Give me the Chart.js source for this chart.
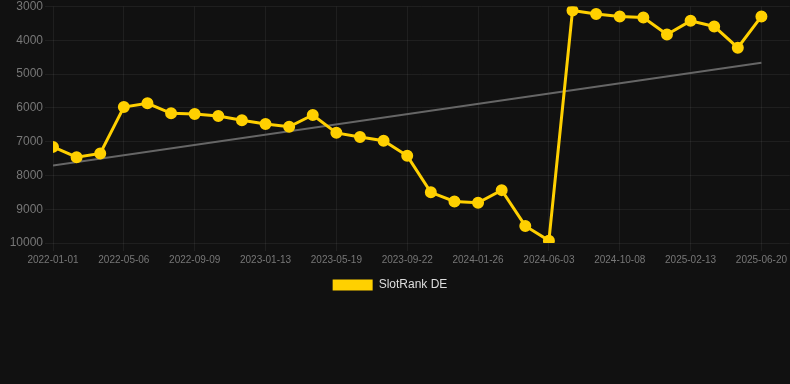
<!DOCTYPE html>
<html>
<head>
<meta charset="utf-8">
<script src="https://cdn.jsdelivr.net/npm/chart.js@4/dist/chart.umd.min.js"></script>
<style>
  html, body { margin: 0; padding: 0; background: #111111; }
  #wrap { position: relative; width: 790px; height: 301px; }
</style>
</head>
<body>
<div id="wrap"><canvas id="c"></canvas></div>
<script>
// Tick labels shown under every third point
const tickLabels = ['2022-01-01','2022-05-06','2022-09-09','2023-01-13','2023-05-19','2023-09-22','2024-01-26','2024-06-03','2024-10-08','2025-02-13','2025-06-20'];
// SlotRank DE rank values (one per point, 31 points)
const rankValues = [7155, 7460, 7350, 5975, 5865, 6160, 6180, 6240, 6365, 6475, 6560,
                    6210, 6740, 6860, 6975, 7420, 8500, 8770, 8810, 8435, 9495, 9930,
                    3120, 3220, 3295, 3325, 3830, 3425, 3590, 4220, 3295];
// Trend line endpoints
const trendStart = 7705;
const trendEnd = 4665;
const yTicks = [3000, 4000, 5000, 6000, 7000, 8000, 9000, 10000];

const mainData = rankValues.map((v, i) => ({x: i, y: v}));
const trendData = [{x: 0, y: trendStart}, {x: rankValues.length - 1, y: trendEnd}];

const font = "'Liberation Sans', Arial, Helvetica, sans-serif";

const shiftLegend = {
  id: 'shiftLegend',
  afterLayout(chart) { if (chart.legend) chart.legend.left -= 10; }
};

new Chart(document.getElementById('c'), {
  type: 'line',
  plugins: [shiftLegend],
  data: {
    datasets: [
      {
        label: 'SlotRank DE',
        data: mainData,
        borderColor: '#FFD000',
        backgroundColor: '#FFD000',
        borderWidth: 3,
        pointRadius: 4.5,
        pointHoverRadius: 4.5,
        pointBackgroundColor: '#FFD000',
        pointBorderColor: '#FFD000',
        tension: 0,
        order: 1
      },
      {
        label: 'trend',
        data: trendData,
        borderColor: '#666666',
        borderWidth: 2,
        pointRadius: 0,
        fill: false,
        order: 2
      }
    ]
  },
  options: {
    responsive: true,
    maintainAspectRatio: false,
    animation: false,
    layout: { autoPadding: false, padding: 0 },
    scales: {
      x: {
        type: 'linear',
        min: 0,
        max: 31.2,
        grid: { color: 'rgba(255,255,255,0.06)', tickLength: 8 },
        border: { display: false },
        ticks: {
          stepSize: 3,
          includeBounds: false,
          autoSkip: false,
          maxRotation: 0,
          color: '#777777',
          font: { family: font, size: 10 },
          callback: (v) => (v % 3 === 0 && tickLabels[v / 3] !== undefined) ? tickLabels[v / 3] : ''
        }
      },
      y: {
        reverse: true,
        min: yTicks[0],
        max: yTicks[yTicks.length - 1],
        grid: { color: 'rgba(255,255,255,0.06)' },
        border: { display: false },
        afterBuildTicks: (s) => { s.ticks = yTicks.map(v => ({value: v})); },
        afterFit: (s) => { s.width = 53; },
        ticks: {
          color: '#777777',
          font: { family: font, size: 12, lineHeight: 0.75 },
          padding: 2,
          callback: (v) => String(v)
        }
      }
    },
    plugins: {
      legend: {
        position: 'bottom',
        labels: {
          color: '#dddddd',
          boxWidth: 40,
          boxHeight: 11,
          font: { family: font, size: 12 },
          filter: (item) => item.text === 'SlotRank DE',
          generateLabels: (chart) => Chart.defaults.plugins.legend.labels.generateLabels(chart)
            .map(l => Object.assign(l, { lineWidth: 0, strokeStyle: 'rgba(0,0,0,0)' }))
        }
      },
      tooltip: { enabled: false }
    }
  }
});
</script>
</body>
</html>
